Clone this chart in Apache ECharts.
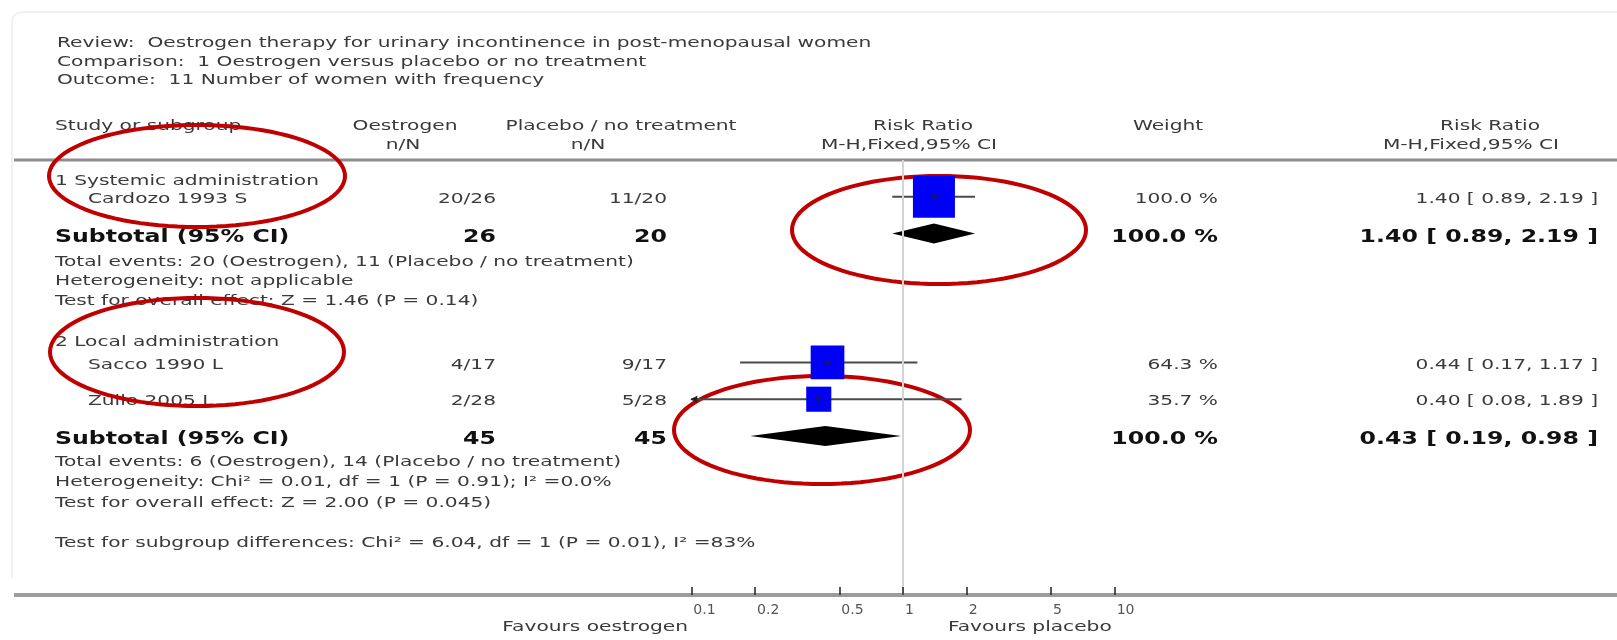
<!DOCTYPE html>
<html>
<head>
<meta charset="utf-8">
<script src="https://cdn.jsdelivr.net/npm/echarts@6/dist/echarts.min.js"></script>
<style>
html,body{margin:0;padding:0;background:#fff;}
#plot{width:1617px;height:640px;}
</style>
</head>
<body>
<div id="plot"></div>
<script>
// study level data
var studies = ['Cardozo 1993 S', 'Sacco 1990 L', 'Zullo 2005 L'];
var oesEvents = [20, 4, 2];
var oesTotal = [26, 17, 28];
var plaEvents = [11, 9, 5];
var plaTotal = [20, 17, 28];
var rr = [1.40, 0.44, 0.40];
var ciLow = [0.89, 0.17, 0.08];
var ciHigh = [2.19, 1.17, 1.89];
var weights = [100.0, 64.3, 35.7];

// subgroups / subtotals
var subgroups = ['1 Systemic administration', '2 Local administration'];
var subOesTotal = [26, 45];
var subPlaTotal = [20, 45];
var subRR = [1.40, 0.43];
var subLow = [0.89, 0.19];
var subHigh = [2.19, 0.98];
var subWeight = [100.0, 100.0];
var subNotes = [
	['Total events: 20 (Oestrogen), 11 (Placebo / no treatment)',
	 'Heterogeneity: not applicable',
	 'Test for overall effect: Z = 1.46 (P = 0.14)'],
	['Total events: 6 (Oestrogen), 14 (Placebo / no treatment)',
	 'Heterogeneity: Chi\u00b2 = 0.01, df = 1 (P = 0.91); I\u00b2 =0.0%',
	 'Test for overall effect: Z = 2.00 (P = 0.045)']
];
var diffNote = 'Test for subgroup differences: Chi\u00b2 = 6.04, df = 1 (P = 0.01), I\u00b2 =83%';

var xTicks = [0.1, 0.2, 0.5, 1, 2, 5, 10];

// layout: row slot of every line (1 slot = one text line)
var studySlot = [2, 11, 13];
var headSlot = [1, 9.8];
var subSlot = [4, 15];
var noteSlot = [[5.4, 6.45, 7.55], [16.3, 17.4, 18.5]];
var diffSlot = 20.7;

var FONT = 'DejaVu Sans';
var SX = 1.44, SXB = 1.39;   // the picture is wide, stretch text
var TOP = 160, AXY = 595, YMAX = 23.64;
var ROWH = (AXY - TOP) / YMAX;
function rowY(s){ return TOP + s * ROWH; }

function txt(x, y, s, align, size, bold, color){
	return {
		type:'text', x:x, y:y, scaleX:bold ? SXB : SX, silent:true, z:1,
		style:{
			text:s, fontFamily:FONT, fontSize:size || 14,
			fontWeight:bold ? 'bold' : 'normal',
			fill:color || '#3a3a3a',
			align:align || 'left', textAlign:align || 'left',
			verticalAlign:'middle', textVerticalAlign:'middle'
		}
	};
}
function ciText(v, l, h){
	return v.toFixed(2) + ' [ ' + l.toFixed(2) + ', ' + h.toFixed(2) + ' ]';
}
function ringPts(cx, cy, rx, ry){
	var pts = [];
	for(var a=0;a<96;a++){
		var t = a / 96 * Math.PI * 2;
		pts.push([cx + rx * Math.cos(t), cy + ry * Math.sin(t)]);
	}
	return pts;
}

var els = [];
// frame on the left
els.push({type:'polyline', silent:true, z:0,
	shape:{points:[[12,578],[12,22],[13,17],[16,14],[22,12],[1617,12]]},
	style:{fill:null, stroke:'#ececec', lineWidth:1.5}});
els.push(txt(57, 43, 'Review:  Oestrogen therapy for urinary incontinence in post-menopausal women'));
els.push(txt(57, 62, 'Comparison:  1 Oestrogen versus placebo or no treatment'));
els.push(txt(57, 80, 'Outcome:  11 Number of women with frequency'));

els.push(txt(55, 126, 'Study or subgroup'));
els.push(txt(405, 126, 'Oestrogen', 'center'));
els.push(txt(403, 145, 'n/N', 'center'));
els.push(txt(621, 126, 'Placebo / no treatment', 'center'));
els.push(txt(588, 145, 'n/N', 'center'));
els.push(txt(923, 126, 'Risk Ratio', 'center'));
els.push(txt(909, 145, 'M-H,Fixed,95% CI', 'center'));
els.push(txt(1168, 126, 'Weight', 'center'));
els.push(txt(1490, 126, 'Risk Ratio', 'center'));
els.push(txt(1471, 145, 'M-H,Fixed,95% CI', 'center'));

// header rule and bottom rule
els.push({type:'line', silent:true, z:0, shape:{x1:14, y1:TOP, x2:1617, y2:TOP}, style:{stroke:'#8c8c8c', lineWidth:3}});
els.push({type:'line', silent:true, z:0, shape:{x1:14, y1:AXY, x2:1617, y2:AXY}, style:{stroke:'#9c9c9c', lineWidth:4}});

var DY = 2.5, DYB = 3.5;
for(var i=0;i<studies.length;i++){
	var y = rowY(studySlot[i]) + DY;
	els.push(txt(88, y, studies[i]));
	els.push(txt(496, y, oesEvents[i] + '/' + oesTotal[i], 'right'));
	els.push(txt(667, y, plaEvents[i] + '/' + plaTotal[i], 'right'));
	els.push(txt(1218, y, weights[i].toFixed(1) + ' %', 'right'));
	els.push(txt(1598, y, ciText(rr[i], ciLow[i], ciHigh[i]), 'right'));
}
for(var g=0;g<subgroups.length;g++){
	els.push(txt(55, rowY(headSlot[g]) + DY, subgroups[g]));
	var ys = rowY(subSlot[g]) + DYB;
	els.push(txt(55, ys, 'Subtotal (95% CI)', 'left', 17, true, '#111'));
	els.push(txt(496, ys, String(subOesTotal[g]), 'right', 17, true, '#111'));
	els.push(txt(667, ys, String(subPlaTotal[g]), 'right', 17, true, '#111'));
	els.push(txt(1218, ys, subWeight[g].toFixed(1) + ' %', 'right', 17, true, '#111'));
	els.push(txt(1598, ys, ciText(subRR[g], subLow[g], subHigh[g]), 'right', 17, true, '#111'));
	for(var k=0;k<subNotes[g].length;k++){
		els.push(txt(55, rowY(noteSlot[g][k]) + DY, subNotes[g][k]));
	}
}
els.push(txt(55, rowY(diffSlot) + DY, diffNote));
els.push(txt(688, 627, 'Favours oestrogen', 'right'));
els.push(txt(948, 627, 'Favours placebo', 'left'));

// red marks that were drawn on the picture
var rings = [[197,176,148,51],[939,230,147,54],[197,352,147,54],[822,430,148,54]];
for(var r=0;r<rings.length;r++){
	els.push({type:'polygon', silent:true, z:2,
		shape:{points:ringPts(rings[r][0], rings[r][1], rings[r][2], rings[r][3])},
		style:{fill:'rgba(0,0,0,0)', stroke:'#c00000', lineWidth:4}});
}

// series data
var ciData = [], sqData = [], diaData = [];
for(var i=0;i<studies.length;i++){
	ciData.push([ciLow[i], ciHigh[i], studySlot[i], rr[i]]);
	sqData.push([rr[i], studySlot[i], weights[i]]);
}
for(var g=0;g<subgroups.length;g++){
	diaData.push([subLow[g], subHigh[g], subSlot[g], subRR[g]]);
}

var XMIN = 0.1, XMAX = 10;
function renderCI(params, api){
	var lo = api.value(0), hi = api.value(1), y = api.value(2);
	var p1 = api.coord([Math.max(lo, XMIN), y]);
	var p2 = api.coord([Math.min(hi, XMAX), y]);
	var ch = [{type:'line', shape:{x1:p1[0], y1:p1[1], x2:p2[0], y2:p2[1]},
		style:{stroke:'#4a4a4a', lineWidth:2}}];
	if(lo < XMIN){
		ch.push({type:'polygon', shape:{points:[[p1[0]-1,p1[1]],[p1[0]+6,p1[1]-3.5],[p1[0]+6,p1[1]+3.5]]},
			style:{fill:'#222'}});
	}
	return {type:'group', children:ch};
}
function renderDiamond(params, api){
	var y = api.value(2);
	var pl = api.coord([api.value(0), y]);
	var pr = api.coord([api.value(1), y]);
	var pc = api.coord([api.value(3), y]);
	return {type:'polygon', shape:{points:[pl, [pc[0], pc[1]-10], pr, [pc[0], pc[1]+10]]},
		style:{fill:'#000'}};
}

var chart = echarts.init(document.getElementById('plot'));
chart.setOption({
	animation:false,
	backgroundColor:'#fff',
	grid:{left:691.3, right:502.3, top:TOP, bottom:640-AXY, containLabel:false, outerBoundsMode:'none'},
	xAxis:{
		type:'log', logBase:10, min:XMIN, max:XMAX, position:'bottom', z:10,
		axisLine:{show:false, onZero:false},
		splitLine:{show:false},
		axisTick:{show:true, inside:true, length:8, customValues:xTicks, lineStyle:{color:'#222', width:1.5}},
		axisLabel:{customValues:xTicks, margin:8, color:'#555', fontFamily:FONT, fontSize:14, align:'left',
			padding:[0,0,0,2],
			formatter:function(v){ return String(v); }}
	},
	yAxis:{type:'value', inverse:true, min:0, max:YMAX, show:false},
	series:[
		{
			name:'ref', type:'line', data:[], z:1, silent:true,
			markLine:{silent:true, symbol:['none','none'], label:{show:false},
				lineStyle:{color:'#d4d4d4', width:2, type:'solid'},
				data:[{xAxis:1}]}
		},
		{name:'ci', type:'custom', z:3, silent:true, renderItem:renderCI,
			encode:{x:[0,1,3], y:2}, data:ciData},
		{name:'weight', type:'scatter', z:4, silent:true, symbol:'rect',
			symbolSize:function(v){ return 42 * Math.sqrt(v[2] / 100); },
			itemStyle:{color:'#0000f5', opacity:1}, data:sqData},
		{name:'est', type:'scatter', z:5, silent:true,
			symbol:'path://M3,0H5V3H8V5H5V8H3V5H0V3H3Z', symbolSize:7,
			itemStyle:{color:'#1a1a50'}, data:sqData},
		{name:'subtotal', type:'custom', z:4, silent:true, renderItem:renderDiamond,
			encode:{x:[0,1,3], y:2}, data:diaData}
	],
	graphic:{elements:els}
});
</script>
</body>
</html>
